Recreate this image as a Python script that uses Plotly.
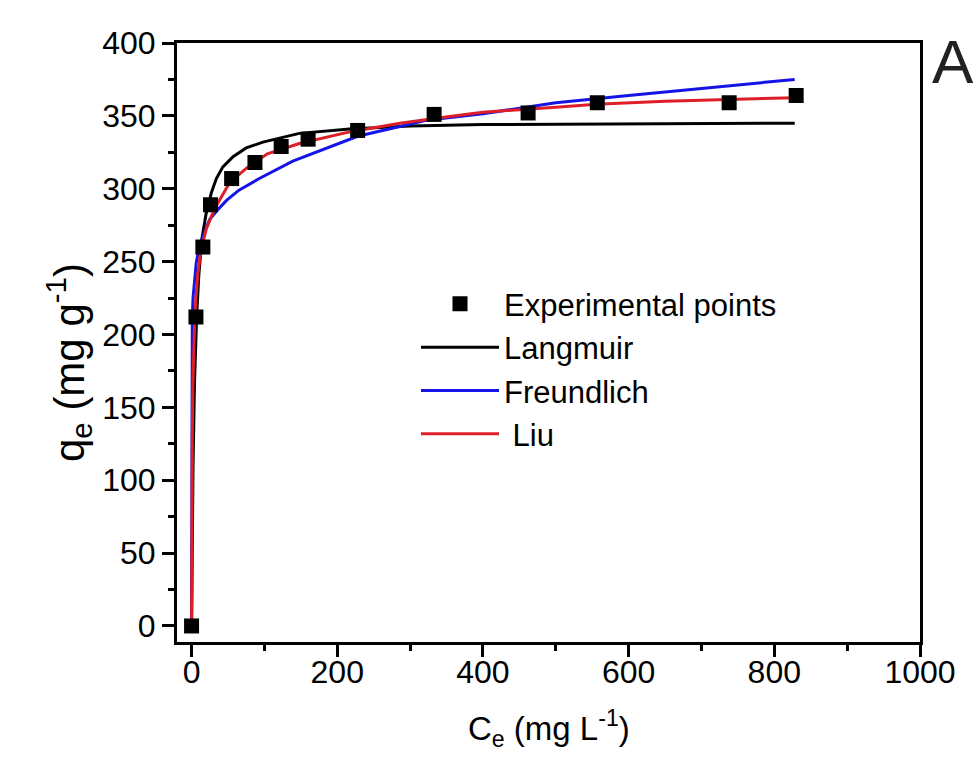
import plotly.graph_objects as go

# Experimental points
exp_x = [0, 6, 15.5, 26, 55, 87, 123, 160, 228, 333, 462, 557, 738, 830]
exp_y = [0, 212, 260, 289, 307, 318, 329, 334, 340, 351, 352, 359, 359, 364]

# Langmuir fit curve
lang_x = [0, 1, 2, 4, 7, 10, 14.6, 20, 27, 34, 43, 57, 75, 98, 148, 217, 300, 400, 550, 700, 828]
lang_y = [0, 65, 109, 166, 213, 241, 267, 283, 297, 307, 315, 322, 328, 332, 338, 341, 343, 344, 344.5, 345, 345]

# Freundlich fit curve
freu_x = [0, 0.5, 1, 2, 4, 6.4, 9, 13, 19, 25, 35, 48, 65, 93, 139, 180, 228, 280, 322, 400, 500, 600, 700, 828]
freu_y = [0, 190, 212, 225, 238, 249, 256, 264, 272, 279, 285, 292, 299, 307, 319, 327, 336, 342, 347, 351.5, 359, 364, 369, 375]

# Liu fit curve
liu_x = [0, 0.3, 1, 1.8, 2.7, 4, 6, 8.7, 13, 20, 28, 36, 52, 75, 104, 148, 217, 286, 354, 400, 500, 556, 650, 750, 828]
liu_y = [0, 70, 130, 165, 185, 205, 225, 242, 258, 272, 282, 290, 304, 314, 324, 331, 339, 345, 349.5, 352.5, 356, 358, 360, 361.5, 362.5]

FONT = "Arial, Liberation Sans, sans-serif"

fig = go.Figure()
fig.add_trace(go.Scatter(x=lang_x, y=lang_y, mode="lines", name="Langmuir", legendrank=2,
                         line=dict(color="#000000", width=3)))
fig.add_trace(go.Scatter(x=freu_x, y=freu_y, mode="lines", name="Freundlich", legendrank=3,
                         line=dict(color="#1414e6", width=3)))
fig.add_trace(go.Scatter(x=liu_x, y=liu_y, mode="lines", name="\u00a0Liu", legendrank=4,
                         line=dict(color="#de1f28", width=3)))
fig.add_trace(go.Scatter(x=exp_x, y=exp_y, mode="markers", name="Experimental points", legendrank=1,
                         marker=dict(symbol="square", size=15, color="#000000")))

axis_common = dict(
    showline=True, linecolor="#000000", linewidth=3, mirror=True,
    showgrid=False, zeroline=False, automargin=False,
    ticks="outside", ticklen=12, tickwidth=2.5, tickcolor="#000000",
    tickfont=dict(family=FONT, size=32, color="#000000"),
)

fig.update_layout(
    width=975, height=757,
    paper_bgcolor="white", plot_bgcolor="white",
    margin=dict(l=177, r=55, t=43, b=115),
    font=dict(family=FONT, color="#000000"),
    showlegend=True,
    legend=dict(
        traceorder="normal",
        x=(416 - 177) / 743, y=0.609, xanchor="left", yanchor="top",
        bgcolor="rgba(0,0,0,0)",
        font=dict(family=FONT, size=31, color="#000000"),
        itemwidth=78, tracegroupgap=0,
    ),
)

fig.update_xaxes(
    range=[-20, 1000], dtick=200, tick0=0, ticklabelstandoff=-12,
    minor=dict(dtick=100, ticks="outside", ticklen=6, tickwidth=2.5, tickcolor="#000000"),
    **axis_common,
)
fig.update_yaxes(
    range=[-11, 400], dtick=50, tick0=0,
    minor=dict(dtick=25, ticks="outside", ticklen=6, tickwidth=2.5, tickcolor="#000000"),
    **axis_common,
)

# axis titles
fig.add_annotation(text="C<sub>e</sub> (mg L<sup>-1</sup>)", xref="paper", yref="paper",
                   x=0.5, y=(642 - 728) / 599, xanchor="center", yanchor="middle",
                   showarrow=False, font=dict(family=FONT, size=33, color="#000000"))
fig.add_annotation(text="q<sub>e</sub> (mg g<sup>-1</sup>)", xref="paper", yref="paper",
                   x=(68 - 177) / 743, y=(642 - 363) / 599, xanchor="center", yanchor="middle",
                   textangle=-90, showarrow=False,
                   font=dict(family=FONT, size=42, color="#000000"))

fig.add_annotation(text="A", xref="paper", yref="paper", x=1.013, y=1.03,
                   xanchor="left", yanchor="top", showarrow=False,
                   font=dict(family=FONT, size=62, color="#222222"))

fig.write_html("out.html")
